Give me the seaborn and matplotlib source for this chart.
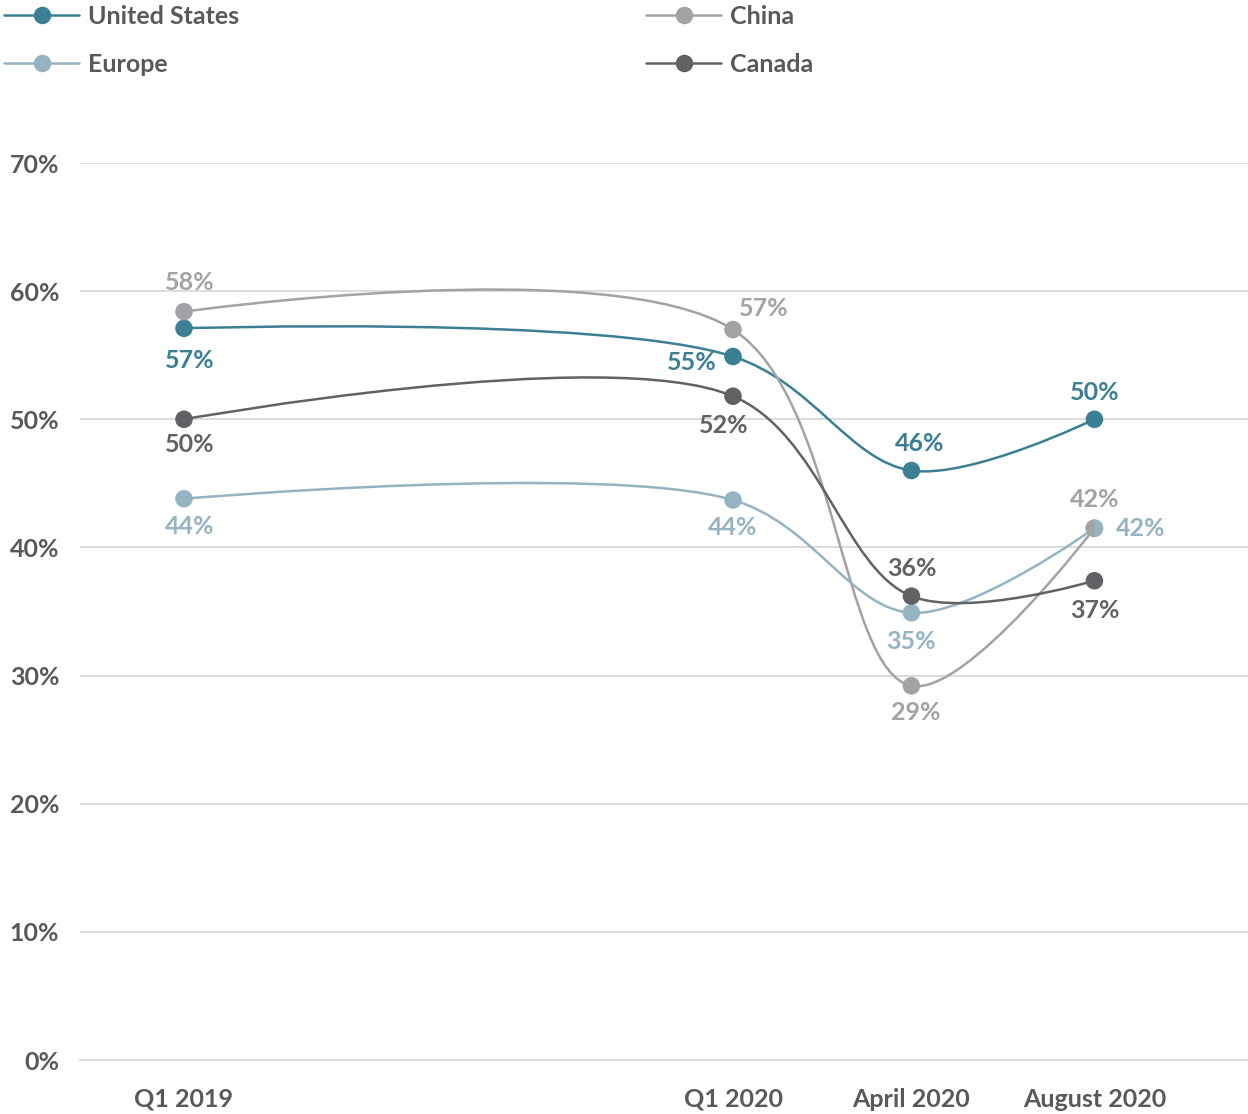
import matplotlib
matplotlib.use("Agg")
import matplotlib.pyplot as plt
from matplotlib.path import Path
from matplotlib.patches import PathPatch
from matplotlib.lines import Line2D
import seaborn as sns
import pandas as pd
import numpy as np

# survey waves, placed on a time axis (months after Q1 2019)
periods = ["Q1 2019", "Q1 2020", "April 2020", "August 2020"]
months = [0, 12, 15.9, 19.9]

# share of respondents, in %
united_states = [57.1, 54.9, 46.0, 50.0]
china = [58.4, 57.0, 29.2, 41.5]
europe = [43.8, 43.7, 34.9, 41.5]
canada = [50.0, 51.8, 36.2, 37.4]

regions = ["United States", "China", "Europe", "Canada"]
colors = {
    "United States": "#3b7f95",
    "China": "#a2a2a7",
    "Europe": "#96b3c2",
    "Canada": "#626266",
}

# label offsets in pixels (dx right, dy down) for each wave
label_offsets = {
    "United States": [(6, 32), (-41, 6), (8, -27), (0, -27)],
    "China": [(6, -29), (31, -21), (4, 27), (0, -29)],
    "Europe": [(6, 28), (0, 27), (0, 29), (46, 0)],
    "Canada": [(6, 25), (-9, 29), (0, -28), (0, 30)],
}

df = pd.DataFrame({
    "month": months * 4,
    "share": united_states + china + europe + canada,
    "region": [r for r in regions for _ in months],
})

TEXT = "#595959"
GRID = "#d9d9d9"
FS = 18

sns.set_theme(style="white")
plt.rcParams["font.family"] = ["Lato", "DejaVu Sans"]
plt.rcParams["font.weight"] = "bold"

W, H = 1248, 1114
fig = plt.figure(figsize=(W / 100, H / 100), dpi=100)
ax = fig.add_axes([80 / W, (H - 1060) / H, (W - 80) / W, (1060 - 163) / H])
px_per_month = 549 / 12
ax.set_xlim(-104 / px_per_month, (W - 184) / px_per_month)
ax.set_ylim(0, 70)


def smooth_path(ax, xs, ys, alpha=0.5):
    """Catmull-Rom (centripetal) curve through the points, as a bezier path."""
    pts = ax.transData.transform(np.column_stack([xs, ys]))
    n = len(pts)
    verts, codes = [pts[0]], [Path.MOVETO]
    for i in range(n - 1):
        p1, p2 = pts[i], pts[i + 1]
        d12 = np.hypot(*(p2 - p1))
        l12a, l12_2a = d12 ** alpha, d12 ** (2 * alpha)
        c1, c2 = p1.copy(), p2.copy()
        if i > 0:
            p0 = pts[i - 1]
            d01 = np.hypot(*(p1 - p0))
            l01a, l01_2a = d01 ** alpha, d01 ** (2 * alpha)
            a = 2 * l01_2a + 3 * l01a * l12a + l12_2a
            m = 3 * l01a * (l01a + l12a)
            c1 = (p1 * a - p0 * l12_2a + p2 * l01_2a) / m
        if i + 2 < n:
            p3 = pts[i + 2]
            d23 = np.hypot(*(p3 - p2))
            l23a, l23_2a = d23 ** alpha, d23 ** (2 * alpha)
            b = 2 * l23_2a + 3 * l23a * l12a + l12_2a
            m = 3 * l23a * (l23a + l12a)
            c2 = (p2 * b + p1 * l23_2a - p3 * l12_2a) / m
        verts += [c1, c2, p2]
        codes += [Path.CURVE4] * 3
    verts = ax.transData.inverted().transform(np.array(verts))
    return Path(verts, codes)


# smooth lines
for region in regions:
    sub = df[df["region"] == region]
    path = smooth_path(ax, sub["month"].values, sub["share"].values)
    ax.add_patch(PathPatch(path, facecolor="none", edgecolor=colors[region],
                           lw=1.8, zorder=2))

# markers
sns.scatterplot(data=df, x="month", y="share", hue="region", palette=colors,
                s=160, linewidth=0, legend=False, zorder=3, ax=ax)

# where China and Europe share a point, show half of each
for x, c, e in zip(months, china, europe):
    if c == e:
        ax.plot([x], [c], marker="o", markersize=12.6, fillstyle="left",
                color=colors["China"], markeredgewidth=0, linestyle="none", zorder=4)

# value labels
for region in regions:
    sub = df[df["region"] == region].reset_index(drop=True)
    for i, row in sub.iterrows():
        dx, dy = label_offsets[region][i]
        ax.annotate(f"{row['share']:.0f}%", (row["month"], row["share"]),
                    xytext=(dx, -dy), textcoords="offset pixels",
                    ha="center", va="center", fontsize=FS, color=colors[region])

# axes styling
ax.set_yticks(range(0, 71, 10))
ax.set_yticklabels([f"{v}%" for v in range(0, 71, 10)])
ax.set_xticks(months)
ax.set_xticklabels(periods)
ax.yaxis.grid(True, color=GRID, linewidth=1.3)
ax.xaxis.grid(False)
ax.set_axisbelow(True)
for side in ["top", "right", "left"]:
    ax.spines[side].set_visible(False)
ax.spines["bottom"].set_color(GRID)
ax.spines["bottom"].set_linewidth(1.3)
ax.tick_params(axis="y", length=0, pad=15, labelsize=FS, labelcolor=TEXT)
ax.tick_params(axis="x", direction="in", length=24, width=1, color=GRID,
               pad=20, labelsize=FS, labelcolor=TEXT)
ax.set_xlabel("")
ax.set_ylabel("")

# legend (column-wise: US, Europe | China, Canada)
order = ["United States", "Europe", "China", "Canada"]
handles = [Line2D([], [], color=colors[r], lw=1.8, marker="o", markersize=12.6,
                  markeredgewidth=0) for r in order]
fig.legend(handles, order, loc="upper left", bbox_to_anchor=(4 / W, 1 - 5 / H),
           ncol=2, frameon=False, handlelength=3.0, handletextpad=0.35,
           columnspacing=16.3, labelspacing=1.0, borderpad=0, borderaxespad=0,
           fontsize=FS, labelcolor=TEXT)

fig.savefig("out.png", dpi=100, facecolor="white")
